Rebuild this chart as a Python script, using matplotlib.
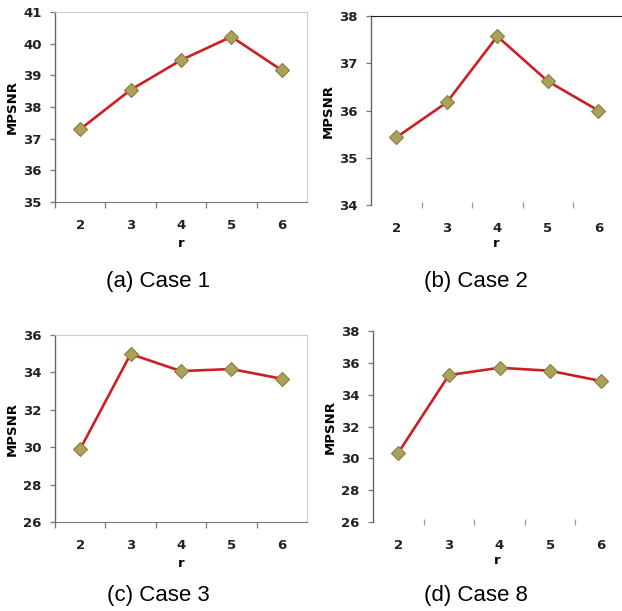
import matplotlib
matplotlib.use("Agg")
import matplotlib.pyplot as plt

# data
r = [2, 3, 4, 5, 6]
case1 = [37.30, 38.54, 39.48, 40.22, 39.16]
case2 = [35.43, 36.17, 37.57, 36.62, 36.00]
case3 = [29.90, 34.98, 34.07, 34.18, 33.66]
case8 = [30.35, 35.23, 35.69, 35.50, 34.86]

ylims = [(35, 41), (34, 38), (26, 36), (26, 38)]
yticks = [range(35, 42), range(34, 39), range(26, 37, 2), range(26, 39, 2)]
captions = ["(a) Case 1", "(b) Case 2", "(c) Case 3", "(d) Case 8"]
series = [case1, case2, case3, case8]

W, H = 622, 611
# axes boxes in pixels: left, top, right, bottom
boxes = [(55, 12, 307, 202), (371, 16, 622, 205), (55, 335, 307, 522), (373, 331, 622, 522)]
xlims = [(1.5, 6.5), (1.5, 6.47), (1.5, 6.5), (1.5, 6.42)]
cap_xy = [(158, 287), (476, 287), (158, 601), (476, 601)]

fig = plt.figure(figsize=(W / 100, H / 100), dpi=100)
lab_font = {"family": "DejaVu Sans", "weight": "bold", "size": 9.5}

for i in range(4):
    l, t, rr, b = boxes[i]
    ax = fig.add_axes([l / W, 1 - b / H, (rr - l) / W, (b - t) / H])
    ax.plot(r, series[i], color="#cc1f25", lw=1.9, marker="D", ms=7,
            markerfacecolor="#a9a35a", markeredgecolor="#8c7c3c", markeredgewidth=0.8)
    ax.set_xlim(*xlims[i])
    ax.set_ylim(*ylims[i])
    ax.set_yticks(list(yticks[i]))
    ax.set_xticks(r)
    minor = [2.5, 3.5, 4.5, 5.5]
    if i in (0, 2):
        minor = [1.5] + minor
    ax.set_xticks(minor, minor=True)
    ax.tick_params(axis="x", which="major", length=0, pad=12)
    if i in (0, 2):
        ax.tick_params(axis="x", which="minor", length=4, color="#777777", width=0.9)
    else:
        ax.tick_params(axis="x", which="minor", direction="inout", length=5,
                       color="#999999", width=0.9)
    ax.tick_params(axis="y", length=3.5, width=0.9, color="#777777", pad=6)
    for lab in ax.get_xticklabels() + ax.get_yticklabels():
        lab.set_fontfamily("DejaVu Sans")
        lab.set_fontweight("bold")
        lab.set_fontsize(9.5)
        lab.set_color("#222222")
    ax.set_ylabel("MPSNR", fontdict=lab_font, labelpad=3)
    ax.set_xlabel("r", fontdict=lab_font, labelpad=4 if i in (0, 2) else 2)
    ax.spines["left"].set_color("#666666")
    ax.spines["left"].set_linewidth(1.0)
    if i in (0, 2):
        ax.spines["bottom"].set_color("#777777")
        ax.spines["top"].set_color("#cccccc")
        ax.spines["right"].set_color("#cccccc")
    elif i == 1:
        ax.spines["bottom"].set_visible(False)
        ax.spines["right"].set_visible(False)
        ax.spines["top"].set_color("#222222")
    else:
        ax.spines["bottom"].set_visible(False)
        ax.spines["right"].set_visible(False)
        ax.spines["top"].set_visible(False)
    cx, cy = cap_xy[i]
    fig.text(cx / W, 1 - cy / H, captions[i], ha="center", va="baseline",
             fontsize=16, family="Liberation Sans")

fig.savefig("out.png", dpi=100)
